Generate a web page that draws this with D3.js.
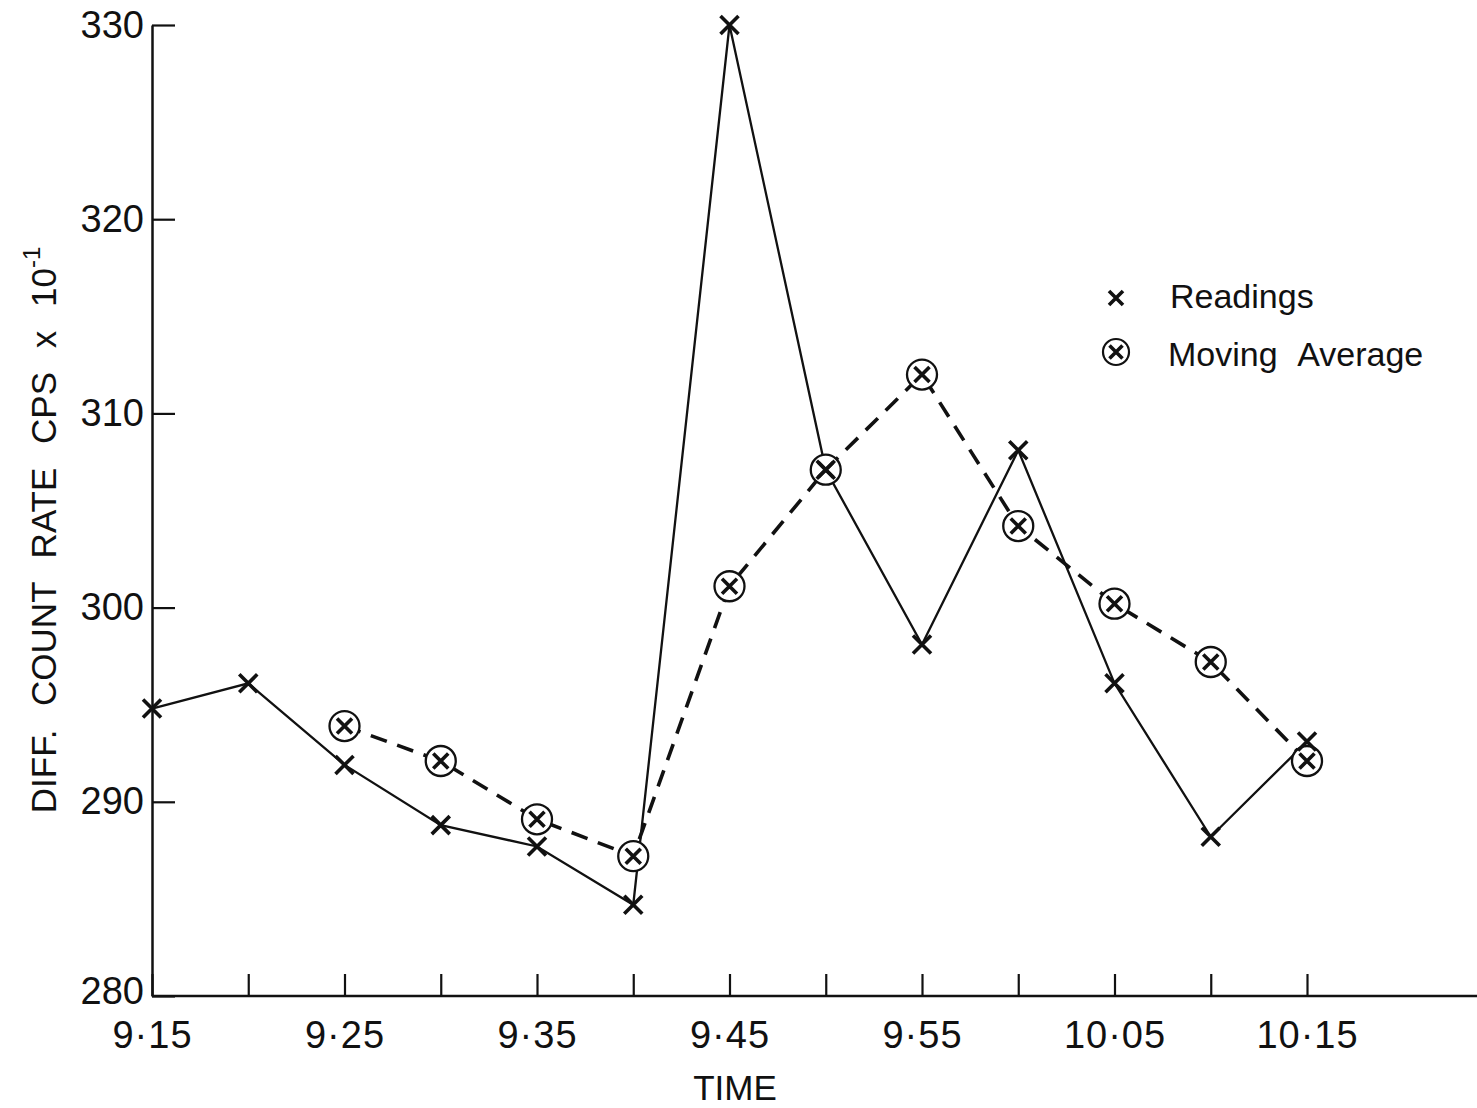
<!DOCTYPE html>
<html>
<head>
<meta charset="utf-8">
<script src="https://cdn.jsdelivr.net/npm/d3@7"></script>
<style>
  body { margin: 0; background: #fff; }
  text { font-family: "Liberation Sans", "DejaVu Sans", sans-serif; fill: #111; }
</style>
</head>
<body>
<div id="main_div"></div>
<script>
// data
const times = ["9:15", "9:20", "9:25", "9:30", "9:35", "9:40", "9:45",
               "9:50", "9:55", "10:00", "10:05", "10:10", "10:15"];
const readings = [294.8, 296.1, 291.9, 288.8, 287.7, 284.7, 330.0,
                  307.1, 298.1, 308.1, 296.1, 288.2, 293.1];
const avgTimes = ["9:25", "9:30", "9:35", "9:40", "9:45", "9:50",
                  "9:55", "10:00", "10:05", "10:10", "10:15"];
const movingAvg = [293.9, 292.1, 289.1, 287.2, 301.1, 307.1,
                   312.0, 304.2, 300.2, 297.2, 292.1];
const yTicks = [280, 290, 300, 310, 320, 330];
const xTickLabels = ["9·15", "", "9·25", "", "9·35", "", "9·45",
                     "", "9·55", "", "10·05", "", "10·15"];

const W = 1477, H = 1108;

function toMin(t) {
    const p = t.split(":");
    return (+p[0]) * 60 + (+p[1]) - (9 * 60 + 15);
}

const svg = d3.select("#main_div")
    .append("svg")
    .attr("width", W)
    .attr("height", H);

const xScale = d3.scaleLinear()
    .domain([0, 60])
    .range([152, 1307]);

const yScale = d3.scaleLinear()
    .domain([280, 330])
    .range([996, 25]);

// axes
const yAxis = d3.axisLeft(yScale)
    .tickValues(yTicks)
    .tickSizeInner(-23)
    .tickSizeOuter(0)
    .tickPadding(8)
    .tickFormat(d => d);

const gy = svg.append("g")
    .attr("transform", "translate(152,0)")
    .call(yAxis);

const xAxis = d3.axisBottom(xScale)
    .tickValues(times.map(toMin))
    .tickSizeInner(-22)
    .tickSizeOuter(0)
    .tickPadding(31)
    .tickFormat((d, i) => xTickLabels[i]);

const gx = svg.append("g")
    .attr("transform", "translate(0,996)")
    .call(xAxis);

gx.select(".domain").attr("d", "M152,0H" + W);

[gx, gy].forEach(g => {
    g.select(".domain").attr("stroke", "#111").attr("stroke-width", 2.5);
    g.selectAll(".tick line").attr("stroke", "#111").attr("stroke-width", 2.2);
    g.selectAll(".tick text")
        .attr("fill", "#111")
        .style("font-family", "'Liberation Sans', sans-serif");
});
gy.selectAll(".tick text").attr("font-size", 38);
gy.selectAll(".tick text").filter(d => d === 280).attr("dy", "0.2em");
gx.selectAll(".tick text")
    .attr("font-size", 38)
    .attr("letter-spacing", 1)
    .attr("dy", "0.55em");

// axis titles
svg.append("text")
    .attr("x", 735)
    .attr("y", 1100)
    .attr("text-anchor", "middle")
    .attr("font-size", 35)
    .text("TIME");

const ylab = svg.append("text")
    .attr("transform", "translate(56,530) rotate(-90)")
    .attr("text-anchor", "middle")
    .attr("font-size", 35)
    .attr("word-spacing", 14);
ylab.append("tspan").text("DIFF.  COUNT  RATE  CPS  x  10");
ylab.append("tspan")
    .attr("dy", -16)
    .attr("font-size", 24)
    .text("-1");

// lines
const line = d3.line()
    .x(d => xScale(d.x))
    .y(d => yScale(d.y));

const readData = times.map((t, i) => ({ x: toMin(t), y: readings[i] }));
const avgData = avgTimes.map((t, i) => ({ x: toMin(t), y: movingAvg[i] }));

svg.append("path")
    .datum(readData)
    .attr("fill", "none")
    .attr("stroke", "#111")
    .attr("stroke-width", 2.3)
    .attr("d", line);

svg.append("path")
    .datum(avgData)
    .attr("fill", "none")
    .attr("stroke", "#111")
    .attr("stroke-width", 3.6)
    .attr("stroke-dasharray", "17,11")
    .attr("d", line);

function cross(g, cx, cy, s, w) {
    g.append("path")
        .attr("d", `M${cx - s},${cy - s}L${cx + s},${cy + s}M${cx + s},${cy - s}L${cx - s},${cy + s}`)
        .attr("stroke", "#111")
        .attr("stroke-width", w || 3.6)
        .attr("fill", "none");
}

// markers
const mk = svg.append("g");
avgData.forEach(d => {
    mk.append("circle")
        .attr("cx", xScale(d.x))
        .attr("cy", yScale(d.y))
        .attr("r", 15)
        .attr("fill", "#fff")
        .attr("stroke", "#111")
        .attr("stroke-width", 2.3);
    cross(mk, xScale(d.x), yScale(d.y), 7.5);
});
readData.forEach(d => cross(mk, xScale(d.x), yScale(d.y), 9));

// legend
const lg = svg.append("g");
cross(lg, 1116, 298, 7);
lg.append("text")
    .attr("x", 1170)
    .attr("y", 308)
    .attr("font-size", 34)
    .text("Readings");
lg.append("circle")
    .attr("cx", 1116)
    .attr("cy", 352)
    .attr("r", 13)
    .attr("fill", "#fff")
    .attr("stroke", "#111")
    .attr("stroke-width", 2.2);
cross(lg, 1116, 352, 6.5);
lg.append("text")
    .attr("x", 1168)
    .attr("y", 366)
    .attr("font-size", 34)
    .attr("word-spacing", 12)
    .text("Moving Average");
</script>
</body>
</html>
